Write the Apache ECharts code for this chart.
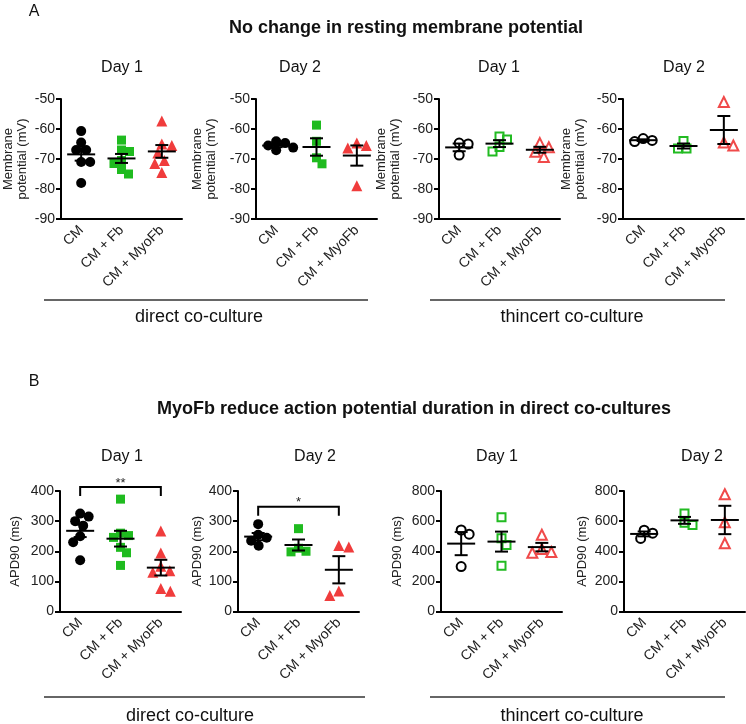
<!DOCTYPE html>
<html><head><meta charset="utf-8">
<script src="https://cdn.jsdelivr.net/npm/echarts@6/dist/echarts.min.js"></script>
<style>html,body{margin:0;padding:0;background:#fff}#c{width:746px;height:724px}</style>
</head><body><div id="c"></div>
<script>
// ---------------- data ----------------
const categories = ['CM', 'CM + Fb', 'CM + MyoFb'];
// resting membrane potential (mV): [CM, CM+Fb, CM+MyoFb]
const rmpDirectDay1 = [[-60.7, -64.5, -67, -67, -71, -71, -78], [-63.7, -67, -67.5, -70.5, -71.5, -73.5, -75], [-57.3, -65, -65.5, -68, -70.5, -71.5, -74.5]];
const rmpDirectDay2 = [[-64.1, -64.7, -65.5, -66.2, -67.1], [-58.7, -64.1, -69.6, -71.6], [-64.7, -65.5, -66.3, -78.9]];
const rmpThincertDay1 = [[-64.7, -65, -68.7], [-62.5, -63.5, -66, -67.5], [-64.7, -66.1, -67.6, -69.3]];
const rmpThincertDay2 = [[-63.2, -64.2, -63.8], [-64, -66.5, -66.5], [-51, -65.5, -64.5]];
// APD90 (ms)
const apdDirectDay1 = [[300, 315, 325, 285, 250, 230, 170], [373, 260, 252, 246, 213, 195, 153], [267, 194, 150, 135, 130, 76, 67]];
const apdDirectDay2 = [[290, 255, 245, 235, 218], [275, 210, 200, 198], [219, 214, 53, 68]];
const apdThincertDay1 = [[541, 513, 298], [625, 486, 442, 303], [510, 415, 395, 390]];
const apdThincertDay2 = [[540, 520, 485], [650, 590, 575], [778, 592, 453]];
// axis ticks
const rmpTicks = [-90, -80, -70, -60, -50];
const apdDirectTicks = [0, 100, 200, 300, 400];
const apdThincertTicks = [0, 200, 400, 600, 800];
// significance: [fromCat, toCat, bracket level, label]
const sigDirectDay1 = [0, 2, 413, '**'];
const sigDirectDay2 = [0, 2, 348, '*'];

// ---------------- layout ----------------
const FONT = "'Liberation Sans', Arial, sans-serif";
const panels = [
  {data: rmpDirectDay1, ticks: rmpTicks, filled: true, left: 61, top: 99, h: 120, name: 'Membrane\npotential (mV)', gap: 32},
  {data: rmpDirectDay2, ticks: rmpTicks, filled: true, left: 256, top: 99, h: 120, name: 'Membrane\npotential (mV)', gap: 38},
  {data: rmpThincertDay1, ticks: rmpTicks, filled: false, left: 439, top: 99, h: 120, name: 'Membrane\npotential (mV)', gap: 37},
  {data: rmpThincertDay2, ticks: rmpTicks, filled: false, left: 623, top: 99, h: 120, name: 'Membrane\npotential (mV)', gap: 36},
  {data: apdDirectDay1, ticks: apdDirectTicks, filled: true, left: 60, top: 491, h: 120.5, name: 'APD90 (ms)', gap: 38, sig: sigDirectDay1},
  {data: apdDirectDay2, ticks: apdDirectTicks, filled: true, left: 238, top: 491, h: 120.5, name: 'APD90 (ms)', gap: 33, sig: sigDirectDay2},
  {data: apdThincertDay1, ticks: apdThincertTicks, filled: false, left: 441, top: 491, h: 120.5, name: 'APD90 (ms)', gap: 37},
  {data: apdThincertDay2, ticks: apdThincertTicks, filled: false, left: 624, top: 491, h: 120.5, name: 'APD90 (ms)', gap: 35}
];
const W = 121;
const colorsFilled = ['#000000', '#1fbb1f', '#f03c3c'];
const colorsOpen = ['#000000', '#22bb22', '#f04a4a'];
const symbols = ['circle', 'rect', 'triangle'];
const sizes = [10, 9, 11];

function stats(v) {
  const n = v.length, m = v.reduce((a, b) => a + b, 0) / n;
  const sd = Math.sqrt(v.reduce((a, b) => a + (b - m) * (b - m), 0) / (n - 1));
  return {mean: m, sem: sd / Math.sqrt(n)};
}
// beeswarm offsets (px) so symbols hardly overlap
function swarm(values, pxPerUnit, d) {
  const order = values.map((v, i) => i).sort((a, b) => values[b] - values[a]);
  const placed = [], off = new Array(values.length).fill(0);
  let side = 1;
  order.forEach(i => {
    const y = values[i] * pxPerUnit;
    for (let k = 0; k < 400; k++) {
      const cands = k === 0 ? [0] : [side * k * 0.5, -side * k * 0.5];
      const c = cands.find(c => placed.every(p => Math.hypot(p.x - c, p.y - y) >= d));
      if (c !== undefined) { off[i] = c; placed.push({x: c, y}); if (c !== 0) side = -Math.sign(c); break; }
    }
  });
  return off;
}

const grids = [], xAxes = [], yAxes = [], series = [];
panels.forEach((p, pi) => {
  const tmin = p.ticks[0], tmax = p.ticks[p.ticks.length - 1];
  const ppu = p.h / (tmax - tmin);
  grids.push({left: p.left, top: p.top, width: W, height: p.h});
  xAxes.push({
    type: 'category', gridIndex: pi, data: categories, boundaryGap: true,
    axisLine: {lineStyle: {color: '#000', width: 2}},
    axisTick: {alignWithLabel: true, length: 6, lineStyle: {color: '#000', width: 2}},
    axisLabel: {rotate: 45, interval: 0, fontSize: 14, color: '#222', fontFamily: FONT, margin: 9}
  });
  yAxes.push({
    type: 'value', gridIndex: pi, min: tmin, max: tmax, interval: p.ticks[1] - p.ticks[0],
    splitLine: {show: false},
    axisLine: {show: true, lineStyle: {color: '#000', width: 2}},
    axisTick: {show: true, length: 5, lineStyle: {color: '#000', width: 2}},
    axisLabel: {fontSize: 14, color: '#222', fontFamily: FONT, margin: 6},
    name: p.name, nameLocation: 'middle', nameGap: p.gap,
    nameTextStyle: {fontSize: 13, color: '#222', fontFamily: FONT, lineHeight: 14}
  });
  const st = [];
  p.data.forEach((vals, ci) => {
    const off = swarm(vals, ppu, (sizes[ci] + 0.5) * 0.85);
    const col = p.filled ? colorsFilled[ci] : colorsOpen[ci];
    series.push({
      type: 'scatter', xAxisIndex: pi, yAxisIndex: pi, symbol: symbols[ci],
      symbolSize: p.filled ? sizes[ci] : sizes[ci] - 1,
      itemStyle: p.filled ? {color: col, opacity: 1} : {color: 'rgba(255,255,255,0)', borderColor: col, borderWidth: 2, opacity: 1},
      data: vals.map((v, i) => ({value: [ci, v], symbolOffset: [off[i], 0]})),
      z: 2, silent: true
    });
    const s = stats(vals);
    st.push([ci, s.mean, s.mean - s.sem, s.mean + s.sem]);
  });
  series.push({
    type: 'custom', xAxisIndex: pi, yAxisIndex: pi, data: st, z: 5, silent: true,
    encode: {x: 0, y: [1, 2, 3]},
    renderItem: (params, api) => {
      const c = api.coord([api.value(0), api.value(1)]);
      const lo = api.coord([api.value(0), api.value(2)]);
      const hi = api.coord([api.value(0), api.value(3)]);
      const w = 14, cw = 6.5, style = {stroke: '#000', lineWidth: 2};
      return {type: 'group', children: [
        {type: 'line', shape: {x1: c[0] - w, y1: c[1], x2: c[0] + w, y2: c[1]}, style},
        {type: 'line', shape: {x1: c[0], y1: lo[1], x2: c[0], y2: hi[1]}, style},
        {type: 'line', shape: {x1: c[0] - cw, y1: lo[1], x2: c[0] + cw, y2: lo[1]}, style},
        {type: 'line', shape: {x1: c[0] - cw, y1: hi[1], x2: c[0] + cw, y2: hi[1]}, style}
      ]};
    }
  });
  if (p.sig) {
    series.push({
      type: 'custom', xAxisIndex: pi, yAxisIndex: pi, data: [p.sig.slice(0, 3)], z: 5, silent: true, clip: false,
      renderItem: (params, api) => {
        const a = api.coord([api.value(0), api.value(2)]);
        const b = api.coord([api.value(1), api.value(2)]);
        return {type: 'group', children: [
          {type: 'polyline', shape: {points: [[a[0], a[1] + 9], [a[0], a[1]], [b[0], b[1]], [b[0], b[1] + 9]]}, style: {stroke: '#000', lineWidth: 2, fill: null}},
          {type: 'text', style: {text: p.sig[3], x: (a[0] + b[0]) / 2, y: a[1] - 4, textAlign: 'center', textVerticalAlign: 'middle', fontSize: 13, fontFamily: FONT, fill: '#222'}}
        ]};
      }
    });
  }
});

const txt = (text, x, y, size, bold, align) => ({type: 'text', x, y, style: {text, fontSize: size, fontWeight: bold ? 'bold' : 'normal', fontFamily: FONT, fill: '#111', textAlign: align || 'center', textVerticalAlign: 'middle'}});
const hline = (x1, x2, y) => ({type: 'line', shape: {x1, y1: y, x2, y2: y}, style: {stroke: '#333', lineWidth: 1.5}});
const graphic = [
  txt('A', 34, 12, 16, false),
  txt('No change in resting membrane potential', 406, 28, 18, true),
  txt('Day 1', 122, 68, 16), txt('Day 2', 300, 68, 16), txt('Day 1', 499, 68, 16), txt('Day 2', 684, 68, 16),
  hline(44, 368, 300), hline(430, 725, 300),
  txt('direct co-culture', 199, 317, 18), txt('thincert co-culture', 572, 317, 18),
  txt('B', 34, 382, 16, false),
  txt('MyoFb reduce action potential duration in direct co-cultures', 414, 409, 18, true),
  txt('Day 1', 122, 457, 16), txt('Day 2', 315, 457, 16), txt('Day 1', 497, 457, 16), txt('Day 2', 702, 457, 16),
  hline(44, 365, 697), hline(430, 725, 697),
  txt('direct co-culture', 190, 716, 18), txt('thincert co-culture', 572, 716, 18)
];

const chart = echarts.init(document.getElementById('c'), null, {renderer: 'canvas'});
chart.setOption({
  animation: false, backgroundColor: '#fff',
  grid: grids, xAxis: xAxes, yAxis: yAxes, series, graphic
});
</script></body></html>
